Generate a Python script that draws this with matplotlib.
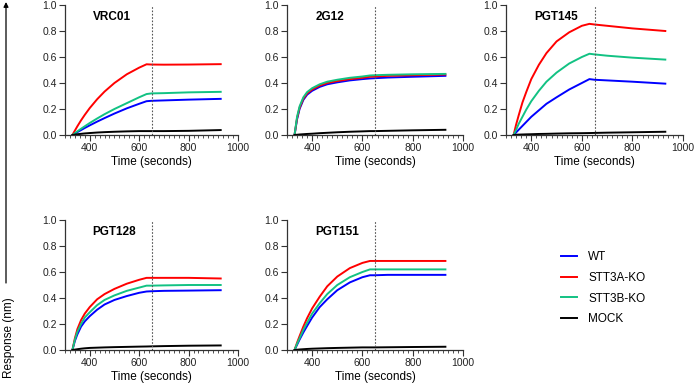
import matplotlib.pyplot as plt
from matplotlib.ticker import MultipleLocator

plt.rcParams['font.family'] = ['Liberation Sans', 'DejaVu Sans']

# time points (seconds)
t = [330, 340, 350, 365, 380, 400, 430, 460, 500, 550, 600, 630, 650, 700, 800, 930]

# response (nm) per antibody, per cell line
vrc01_wt = [0, 0.011, 0.022, 0.038, 0.054, 0.074, 0.103, 0.13, 0.165, 0.205, 0.24, 0.26, 0.263, 0.266, 0.272, 0.278]
vrc01_a = [0, 0.034, 0.067, 0.113, 0.155, 0.207, 0.275, 0.334, 0.40, 0.467, 0.518, 0.544, 0.542, 0.541, 0.542, 0.545]
vrc01_b = [0, 0.014, 0.028, 0.048, 0.067, 0.092, 0.127, 0.16, 0.20, 0.245, 0.29, 0.315, 0.32, 0.322, 0.328, 0.332]
vrc01_mock = [0, 0.003, 0.006, 0.009, 0.012, 0.015, 0.019, 0.022, 0.025, 0.028, 0.03, 0.03, 0.03, 0.03, 0.032, 0.038]

g12_wt = [0, 0.12, 0.2, 0.27, 0.31, 0.34, 0.37, 0.39, 0.405, 0.42, 0.43, 0.435, 0.437, 0.442, 0.448, 0.455]
g12_a = [0, 0.13, 0.21, 0.28, 0.32, 0.35, 0.38, 0.40, 0.415, 0.43, 0.44, 0.448, 0.45, 0.455, 0.46, 0.465]
g12_b = [0, 0.14, 0.22, 0.29, 0.33, 0.36, 0.39, 0.41, 0.425, 0.44, 0.45, 0.458, 0.46, 0.463, 0.467, 0.47]
g12_mock = [0, 0.002, 0.004, 0.006, 0.008, 0.01, 0.014, 0.017, 0.021, 0.025, 0.028, 0.03, 0.03, 0.032, 0.036, 0.04]

pgt145_wt = [0, 0.02, 0.04, 0.07, 0.10, 0.14, 0.19, 0.24, 0.29, 0.35, 0.40, 0.43, 0.425, 0.42, 0.41, 0.395]
pgt145_a = [0, 0.08, 0.15, 0.25, 0.33, 0.43, 0.54, 0.63, 0.72, 0.79, 0.84, 0.855, 0.85, 0.84, 0.82, 0.80]
pgt145_b = [0, 0.04, 0.085, 0.14, 0.195, 0.26, 0.34, 0.41, 0.48, 0.55, 0.60, 0.625, 0.62, 0.61, 0.595, 0.58]
pgt145_mock = [0, 0.002, 0.003, 0.004, 0.005, 0.006, 0.008, 0.009, 0.011, 0.013, 0.014, 0.015, 0.016, 0.018, 0.021, 0.025]

pgt128_wt = [0, 0.07, 0.12, 0.18, 0.22, 0.26, 0.31, 0.35, 0.385, 0.415, 0.44, 0.45, 0.452, 0.455, 0.457, 0.46]
pgt128_a = [0, 0.09, 0.16, 0.23, 0.28, 0.33, 0.39, 0.43, 0.47, 0.51, 0.54, 0.555, 0.555, 0.555, 0.555, 0.55]
pgt128_b = [0, 0.08, 0.14, 0.20, 0.25, 0.29, 0.345, 0.385, 0.42, 0.455, 0.48, 0.495, 0.495, 0.497, 0.5, 0.5]
pgt128_mock = [0, 0.003, 0.006, 0.01, 0.013, 0.016, 0.018, 0.02, 0.022, 0.024, 0.026, 0.027, 0.028, 0.03, 0.033, 0.035]

pgt151_wt = [0, 0.04, 0.08, 0.135, 0.185, 0.25, 0.33, 0.39, 0.46, 0.52, 0.56, 0.575, 0.575, 0.578, 0.578, 0.578]
pgt151_a = [0, 0.056, 0.107, 0.18, 0.245, 0.32, 0.41, 0.49, 0.565, 0.63, 0.67, 0.685, 0.685, 0.685, 0.685, 0.685]
pgt151_b = [0, 0.048, 0.09, 0.155, 0.21, 0.28, 0.36, 0.43, 0.50, 0.56, 0.60, 0.62, 0.62, 0.62, 0.62, 0.62]
pgt151_mock = [0, 0.002, 0.004, 0.006, 0.008, 0.01, 0.012, 0.014, 0.016, 0.018, 0.02, 0.02, 0.02, 0.021, 0.023, 0.025]

labels = ['WT', 'STT3A-KO', 'STT3B-KO', 'MOCK']
colors = ['#0000FF', '#FF0000', '#12C283', '#000000']

panels = [
    ('VRC01', [vrc01_wt, vrc01_a, vrc01_b, vrc01_mock]),
    ('2G12', [g12_wt, g12_a, g12_b, g12_mock]),
    ('PGT145', [pgt145_wt, pgt145_a, pgt145_b, pgt145_mock]),
    ('PGT128', [pgt128_wt, pgt128_a, pgt128_b, pgt128_mock]),
    ('PGT151', [pgt151_wt, pgt151_a, pgt151_b, pgt151_mock]),
]

W, H = 696, 387
fig = plt.figure(figsize=(W / 100, H / 100), dpi=100)

# axes boxes in pixels: left, top, right, bottom
boxes = [(65, 5, 238, 135), (287, 5, 463, 135), (506, 5, 683, 135),
         (65, 220, 238, 350), (287, 220, 463, 350)]

axc = '#333333'
for (name, series), (l, tp, r, b) in zip(panels, boxes):
    ax = fig.add_axes([l / W, 1 - b / H, (r - l) / W, (b - tp) / H])
    for y, c, lab in zip(series, colors, labels):
        ax.plot(t, y, color=c, lw=1.4, label=lab)
    ax.axvline(650, color='#555555', lw=0.8, ls=(0, (1.5, 1.5)))
    ax.set_xlim(300, 1000)
    ax.set_ylim(0, 1.0)
    ax.xaxis.set_major_locator(MultipleLocator(200))
    ax.xaxis.set_minor_locator(MultipleLocator(20))
    ax.yaxis.set_major_locator(MultipleLocator(0.2))
    ax.set_xticks([400, 600, 800, 1000])
    ax.yaxis.set_major_formatter(plt.FuncFormatter(lambda v, p: f'{v:.1f}'))
    for s in ['top', 'right']:
        ax.spines[s].set_visible(False)
    for s in ['left', 'bottom']:
        ax.spines[s].set_color(axc)
        ax.spines[s].set_linewidth(0.9)
    ax.tick_params(which='major', length=4, width=0.8, color=axc, labelsize=7.5,
                   labelcolor='#222222', pad=2)
    ax.tick_params(which='minor', length=2.5, width=0.6, color=axc)
    ax.tick_params(axis='y', which='minor', left=False)
    ax.set_xlabel('Time (seconds)', fontsize=8.5, labelpad=2)
    ax.text(0.16, 0.91, name, transform=ax.transAxes, fontsize=8.5,
            fontweight='bold', ha='left', va='center')

handles, labs = ax.get_legend_handles_labels()
fig.legend(handles, labs, loc='upper left', bbox_to_anchor=(555 / W, 1 - 245 / H),
           frameon=False, fontsize=8.5, handlelength=1.4, handletextpad=0.9,
           labelspacing=0.75, borderpad=0)

# shared y label with upward arrow
fig.add_artist(plt.Line2D([0], [0]))
ax0 = fig.axes[0]
fig.text(9 / W, 1 - 338 / H, 'Response (nm)', rotation=90, fontsize=8.5,
         ha='center', va='center')
ax0.annotate('', xy=(6 / W, 1 - 2 / H), xytext=(6 / W, 1 - 283 / H),
             xycoords='figure fraction', textcoords='figure fraction',
             arrowprops=dict(arrowstyle='-|>', color='black', lw=0.9,
                             mutation_scale=7, shrinkA=0, shrinkB=0))

fig.savefig('out.png', dpi=100)
